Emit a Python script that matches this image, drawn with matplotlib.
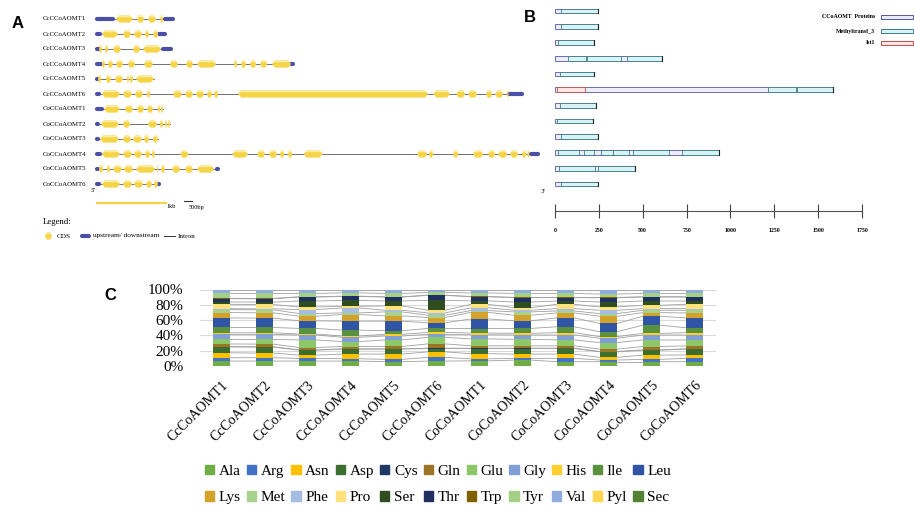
import matplotlib
matplotlib.use("Agg")
import matplotlib.pyplot as plt
import numpy as np
from matplotlib.patches import Rectangle, Polygon, Patch

W, H = 914, 508
SERIF = "Liberation Serif"
SANS = "Liberation Sans"

# ---------------- A: gene structures (positions in bp) ----------------
gene_names = ["CcCCoAOMT1", "CcCCoAOMT2", "CcCCoAOMT3", "CcCCoAOMT4", "CcCCoAOMT5", "CcCCoAOMT6",
              "CoCCoAOMT1", "CoCCoAOMT2", "CoCCoAOMT3", "CoCCoAOMT4", "CoCCoAOMT5", "CoCCoAOMT6"]
utr5 = [(0, 232), (0, 44), (0, 30), (0, 58), (0, 15), (0, 29),
        (0, 73), (0, 15), (0, 15), (0, 44), (0, 15), (0, 29)]
utr3 = [(986, 1102), (899, 986), (957, 1073), (2813, 2842), None, (5974, 6162),
        None, None, None, (6293, 6390), (1740, 1755), (884, 899)]
cds = [
    [(276, 522), (580, 682), (740, 855), (917, 957)],
    [(72, 305), (377, 493), (537, 653), (696, 754), (812, 885)],
    [(30, 73), (116, 160), (232, 348), (522, 624), (667, 928)],
    [(72, 116), (160, 232), (276, 377), (450, 551), (682, 812), (1058, 1174), (1290, 1392),
     (1450, 1726), (1986, 2030), (2088, 2160), (2218, 2306), (2364, 2465), (2537, 2813)],
    [(15, 58), (130, 203), (261, 377), (435, 464), (478, 522), (566, 826)],
    [(72, 334), (377, 508), (551, 667), (725, 769), (1102, 1232), (1276, 1392), (1435, 1551),
     (1595, 1667), (1697, 1755), (2045, 4799), (4872, 5118), (5206, 5336), (5380, 5510),
     (5640, 5727), (5771, 5887), (5945, 5965)],
    [(102, 334), (406, 522), (580, 682), (725, 812), (884, 914), (928, 957)],
    [(58, 319), (377, 479), (739, 870), (914, 957), (986, 1015), (1030, 1058)],
    [(44, 319), (377, 493), (522, 653), (682, 754), (812, 870), (870, 884)],
    [(72, 334), (377, 508), (537, 653), (696, 769), (797, 841), (1208, 1324), (1958, 2190),
     (2320, 2436), (2494, 2610), (2654, 2712), (2770, 2828), (2996, 3271), (4640, 4784),
     (4813, 4872), (5162, 5234), (5452, 5597), (5669, 5771), (5814, 5945), (5988, 6104),
     (6162, 6220), (6235, 6264)],
    [(29, 87), (145, 189), (232, 363), (392, 522), (566, 841), (870, 884), (928, 986),
     (1088, 1204), (1276, 1392), (1450, 1697)],
    [(72, 334), (377, 508), (537, 667), (711, 798), (827, 884)],
]

# ---------------- B: protein domains (positions in aa) ----------------
protein_len = [245, 245, 222, 610, 222, 1585, 234, 217, 245, 935, 456, 245]
domains = [
    [(34, 245, "M")],
    [(34, 245, "M")],
    [(17, 222, "M")],
    [(75, 178, "M"), (184, 375, "M"), (410, 610, "M")],
    [(26, 222, "M")],
    [(12, 171, "I"), (1214, 1374, "M"), (1380, 1585, "M")],
    [(26, 234, "M")],
    [(14, 217, "M")],
    [(34, 245, "M")],
    [(17, 137, "M"), (165, 222, "M"), (262, 331, "M"), (331, 422, "M"), (445, 650, "M"), (724, 935, "M")],
    [(23, 228, "M"), (245, 456, "M")],
    [(34, 245, "M")],
]
aa_ticks = [0, 250, 500, 750, 1000, 1250, 1500, 1750]

# ---------------- C: amino acid composition (%) ----------------
genes_c = ["CcCoAOMT1", "CcCoAOMT2", "CcCoAOMT3", "CcCoAOMT4", "CcCoAOMT5", "CcCoAOMT6",
           "CoCoAOMT1", "CoCoAOMT2", "CoCoAOMT3", "CoCoAOMT4", "CoCoAOMT5", "CoCoAOMT6"]
amino = ["Ala", "Arg", "Asn", "Asp", "Cys", "Gln", "Glu", "Gly", "His", "Ile", "Leu",
         "Lys", "Met", "Phe", "Pro", "Ser", "Thr", "Trp", "Tyr", "Val", "Pyl", "Sec"]
aa_colors = ["#70AD47", "#4472C4", "#FFC000", "#3B6E2F", "#203864", "#9C7425", "#8CC86A",
             "#7F9FD6", "#FFCF2E", "#5A9140", "#2F55A4", "#D4A12A", "#A9D18E", "#A5BCE3",
             "#FFE27A", "#2E4D21", "#1F3061", "#7F6000", "#A2D085", "#8FAADC", "#FFD54F", "#548235"]
composition = np.array([
    # Cc1  Cc2  Cc3  Cc4  Cc5  Cc6  Co1  Co2  Co3  Co4  Co5  Co6
    [6.5, 6.5, 6.5, 6.5, 5.7, 6.5, 6.5, 7.8, 5.7, 5.7, 5.7, 5.7],   # Ala
    [4.4, 4.4, 3.5, 3.1, 3.1, 4.8, 2.6, 2.2, 4.4, 2.2, 3.1, 4.4],   # Arg
    [6.5, 6.1, 4.4, 6.1, 7.0, 7.4, 6.5, 5.7, 5.7, 3.5, 5.7, 4.4],   # Asn
    [7.8, 7.8, 6.5, 6.5, 6.5, 4.4, 6.5, 7.4, 7.4, 7.4, 6.5, 7.8],   # Asp
    [0.4, 0.4, 0.4, 0.4, 0.4, 0.4, 0.4, 0.4, 0.4, 0.4, 0.4, 0.4],   # Cys
    [3.5, 3.5, 3.1, 3.1, 3.1, 5.7, 3.1, 3.1, 3.1, 3.1, 4.4, 3.9],   # Gln
    [6.1, 6.1, 10.0, 6.5, 8.7, 8.7, 8.7, 8.7, 7.8, 8.7, 8.7, 7.8],  # Glu
    [6.5, 6.5, 6.5, 5.7, 5.2, 3.9, 5.2, 5.7, 6.5, 5.7, 6.5, 6.5],   # Gly
    [2.2, 2.2, 1.3, 1.7, 2.2, 2.6, 2.2, 2.2, 3.1, 2.2, 2.2, 3.1],   # His
    [7.0, 7.0, 7.4, 7.8, 4.8, 5.2, 5.7, 6.5, 7.8, 6.5, 10.9, 6.5],  # Ile
    [12.6, 12.2, 10.0, 11.8, 12.6, 7.4, 12.2, 10.0, 11.8, 10.9, 11.8, 13.1],  # Leu
    [7.0, 7.0, 6.1, 8.7, 7.0, 7.0, 8.3, 7.4, 6.5, 9.6, 4.8, 6.5],   # Lys
    [3.9, 3.9, 3.5, 2.2, 5.2, 3.1, 2.2, 4.4, 2.6, 3.5, 3.1, 3.5],   # Met
    [1.3, 1.3, 5.2, 6.5, 2.2, 3.1, 3.5, 2.2, 3.1, 4.4, 2.2, 2.2],   # Phe
    [5.7, 5.7, 3.5, 2.2, 5.7, 3.5, 4.4, 3.5, 5.7, 4.4, 4.4, 5.7],   # Pro
    [3.1, 3.1, 7.8, 7.8, 6.5, 13.1, 4.4, 7.4, 4.4, 6.5, 5.7, 4.4],  # Ser
    [4.4, 4.4, 5.2, 5.2, 5.2, 6.5, 5.2, 5.7, 4.4, 5.7, 5.2, 5.2],   # Thr
    [0.4, 0.4, 0.4, 0.4, 0.4, 0.4, 0.4, 0.4, 0.4, 0.4, 0.4, 0.4],   # Trp
    [6.5, 6.5, 4.4, 4.4, 4.4, 3.5, 4.4, 5.2, 5.2, 4.4, 4.4, 4.4],   # Tyr
    [5.2, 5.2, 5.2, 4.4, 5.2, 3.9, 4.4, 5.2, 5.2, 6.1, 5.2, 5.2],   # Val
    [0.0] * 12,                                                       # Pyl
    [0.0] * 12,                                                       # Sec
])

fig = plt.figure(figsize=(W / 100, H / 100), dpi=100)


def px_axes(x0, y0, x1, y1):
    ax = fig.add_axes([x0 / W, 1 - y1 / H, (x1 - x0) / W, (y1 - y0) / H])
    ax.set_axis_off()
    return ax


# ---------- panel A ----------
BP_PX = 1000 / 69.0      # bp per pixel (1 kb scale bar = 69 px)
A_X0 = 97                # pixel of position 0
A_ROW0, A_STEP = 19, 15.0
axA = px_axes(40, 5, 545, 250)
axA.set_xlim((40 - A_X0) * BP_PX, (545 - A_X0) * BP_PX)
axA.set_ylim((250 - A_ROW0) / A_STEP, (5 - A_ROW0) / A_STEP)


def bx(px):
    return (px - A_X0) * BP_PX


def ry(px):
    return (px - A_ROW0) / A_STEP


def draw_exon(ax, s, e, y, h=0.24):
    d = min((e - s) * 0.25, 45)
    ax.add_patch(Polygon([(s, y), (s + d, y - h), (e - d, y - h), (e, y), (e - d, y + h), (s + d, y + h)],
                         closed=True, fc="#F6D447", ec="none", zorder=3))
    ax.add_patch(Polygon([(s + d * 0.5, y - h * 0.5), (s + d, y - h), (e - d, y - h), (e - d * 0.5, y - h * 0.5)],
                         closed=True, fc="#FCEDA6", ec="none", zorder=3))


def draw_utr(ax, s, e, y):
    ax.plot([s, e], [y, y], color="#4B4FA8", lw=3.0, solid_capstyle="round", zorder=2)


for i, name in enumerate(gene_names):
    end = max([utr5[i][1]] + [c[1] for c in cds[i]] + ([utr3[i][1]] if utr3[i] else []))
    axA.plot([0, end], [i, i], color="#5A5A5A", lw=0.6, zorder=1)
    draw_utr(axA, *utr5[i], i)
    if utr3[i]:
        draw_utr(axA, *utr3[i], i)
    for s, e in cds[i]:
        draw_exon(axA, s, e, i)
    axA.text(bx(43), i, name, fontsize=4.9, family=SERIF, va="center", ha="left")

axA.text(bx(91), ry(191), "5'", fontsize=5, family=SERIF, style="italic", va="center")
axA.plot([0, 1000], [ry(203), ry(203)], color="#F6D447", lw=1.6)
axA.text(1000, ry(206), "1kb", fontsize=4.5, family=SERIF, va="center", ha="left")
axA.plot([bx(184), bx(192)], [ry(201), ry(201)], color="#333333", lw=0.8)
axA.text(bx(189), ry(207), "500bp", fontsize=4.5, family=SERIF, va="center", ha="left")
axA.text(bx(43), ry(222), "Legend:", fontsize=6.3, family=SERIF, va="center", ha="left")
draw_exon(axA, bx(45), bx(52), ry(236))
axA.text(bx(57), ry(236), "CDS", fontsize=5.2, family=SERIF, va="center")
draw_utr(axA, bx(82), bx(89), ry(236))
axA.text(bx(93), ry(236), "upstream/ downstream", fontsize=5.2, family=SERIF, va="center")
axA.plot([bx(164), bx(175)], [ry(236), ry(236)], color="#333333", lw=0.7)
axA.text(bx(178), ry(236), "Intron", fontsize=5.2, family=SERIF, va="center")

# ---------- panel B ----------
AA_PX = 1750 / (862 - 555.0)
B_X0 = 555
B_ROW0, B_STEP = 11, 15.73
axB = px_axes(535, 0, 914, 245)
axB.set_xlim((535 - B_X0) * AA_PX, (914 - B_X0) * AA_PX)
axB.set_ylim((245 - B_ROW0) / B_STEP, (0 - B_ROW0) / B_STEP)

dom_style = {"P": ("#EDEDF9", "#5356A8"), "M": ("#D8F2F6", "#3D7D82"), "I": ("#FCE8E8", "#D24A4A")}
bh = 0.15
for i, L in enumerate(protein_len):
    fc, ec = dom_style["P"]
    axB.add_patch(Rectangle((0, i - bh), L, 2 * bh, fc=fc, ec=ec, lw=0.6, zorder=2))
    for s, e, k in domains[i]:
        fc, ec = dom_style[k]
        axB.add_patch(Rectangle((s, i - bh), e - s, 2 * bh, fc=fc, ec=ec, lw=0.6, zorder=3))
    axB.plot([L, L], [i - bh, i + bh], color="#222222", lw=0.8, zorder=4)

sy = (211 - B_ROW0) / B_STEP
axB.plot([0, aa_ticks[-1]], [sy, sy], color="#555555", lw=0.8)
axB.vlines(aa_ticks, sy - 0.45, sy + 0.45, color="#444444", lw=0.8)
for t in aa_ticks:
    axB.text(t, (231 - B_ROW0) / B_STEP, str(t), fontsize=4.2, family=SERIF, weight="bold",
             ha="center", va="center")
axB.text((541 - B_X0) * AA_PX, (192 - B_ROW0) / B_STEP, "3'", fontsize=5, family=SERIF, va="center")

leg_b = [("CCoAOMT  Proteins", "P", 17), ("Methyltransf_3", "M", 31), ("Ist1", "I", 43)]
for lab, k, ypx in leg_b:
    yy = (ypx - B_ROW0) / B_STEP
    fc, ec = dom_style[k]
    axB.add_patch(Rectangle(((881 - B_X0) * AA_PX, yy - 0.11), 32 * AA_PX, 0.22, fc=fc, ec=ec, lw=0.7))
    axB.text((875 - B_X0) * AA_PX, yy, lab, fontsize=4.2, family=SERIF, weight="bold",
             ha="right", va="center")

# ---------- panel C ----------
axC = fig.add_axes([200 / W, 1 - 366 / H, 516 / W, 76.5 / H])
pct = composition / composition.sum(axis=0) * 100
x = np.arange(len(genes_c))
bw = 0.4
bottom = np.zeros(len(genes_c))
for k, aa in enumerate(amino):
    axC.bar(x, pct[k], bottom=bottom, width=bw, color=aa_colors[k], edgecolor="none", zorder=3, label=aa)
    top = bottom + pct[k]
    if pct[k].sum() > 0:
        for j in range(len(x) - 1):
            axC.plot([x[j] + bw / 2, x[j + 1] - bw / 2], [top[j], top[j + 1]], color="#A0A0A0",
                     lw=0.6, zorder=2)
    bottom = top

axC.set_xlim(-0.5, len(x) - 0.5)
axC.set_ylim(0, 100)
axC.set_yticks(range(0, 101, 20))
axC.set_yticklabels([f"{v}%" for v in range(0, 101, 20)], family=SERIF, fontsize=11)
axC.set_xticks(x)
axC.set_xticklabels(genes_c, rotation=45, ha="right", rotation_mode="anchor", family=SERIF, fontsize=10)
axC.tick_params(length=0, pad=9)
axC.tick_params(axis="y", pad=12)
axC.grid(axis="y", color="#D9D9D9", lw=0.8, zorder=0)
for sp in axC.spines.values():
    sp.set_visible(False)

handles = [Patch(color=c) for c in aa_colors]
half = 11
order = []
for j in range(half):
    order += [j, j + half]
fig.legend([handles[i] for i in order], [amino[i] for i in order], ncol=11, loc="center",
           bbox_to_anchor=(438 / W, 1 - 484.5 / H), frameon=False,
           prop={"family": SERIF, "size": 11}, handlelength=0.6, handleheight=0.6,
           handletextpad=0.3, columnspacing=0.4, labelspacing=0.85, borderpad=0)

# panel letters
for lab, xp, yp in [("A", 18, 24), ("B", 530, 18), ("C", 110, 295)]:
    fig.text(xp / W, 1 - yp / H, lab, fontsize=12, weight="bold", family=SANS, ha="center", va="center")

fig.savefig("out.png", dpi=100)
